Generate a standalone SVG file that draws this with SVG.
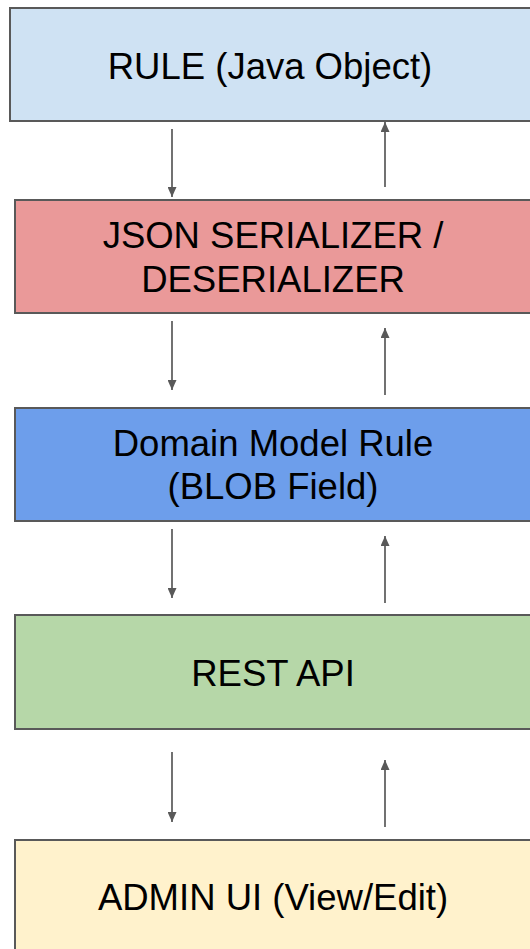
<svg xmlns="http://www.w3.org/2000/svg" width="530" height="949" viewBox="0 0 530 949">
<style>
.box{stroke:#595959;stroke-width:2}
.lbl{font-family:"Liberation Sans",Arial,sans-serif;font-size:36.5px;fill:#000;text-anchor:middle}
.con{stroke:#595959;stroke-width:1.7;fill:none}
</style>
<defs>
<marker id="ah" viewBox="0 0 10 9" refX="10" refY="4.5" markerWidth="10" markerHeight="9" orient="auto" markerUnits="userSpaceOnUse">
<path d="M0,0 L10,4.5 L0,9 z" fill="#595959"/>
</marker>
</defs>
<rect width="530" height="949" fill="#fff"/>
<g id="rule">
<rect class="box" x="10" y="8" width="540" height="113" fill="#cfe2f3"/>
<text class="lbl" x="270" y="79">RULE (Java Object)</text>
</g>
<g id="json">
<rect class="box" x="15" y="200" width="540" height="113" fill="#ea9999"/>
<text class="lbl" x="273" y="248">JSON SERIALIZER /</text>
<text class="lbl" x="273" y="292">DESERIALIZER</text>
</g>
<g id="domain">
<rect class="box" x="15" y="408" width="540" height="113" fill="#6d9eeb"/>
<text class="lbl" x="273" y="456">Domain Model Rule</text>
<text class="lbl" x="273" y="499">(BLOB Field)</text>
</g>
<g id="rest">
<rect class="box" x="15" y="615" width="540" height="114" fill="#b6d7a8"/>
<text class="lbl" x="273" y="686">REST API</text>
</g>
<g id="admin">
<rect class="box" x="15" y="840" width="540" height="130" fill="#fff2cc"/>
<text class="lbl" x="273" y="910">ADMIN UI (View/Edit)</text>
</g>
<g id="connectors">
<line class="con" x1="172" y1="129" x2="172" y2="197" marker-end="url(#ah)"/>
<line class="con" x1="385" y1="187" x2="385" y2="122" marker-end="url(#ah)"/>
<line class="con" x1="172" y1="321" x2="172" y2="390" marker-end="url(#ah)"/>
<line class="con" x1="385" y1="395" x2="385" y2="328" marker-end="url(#ah)"/>
<line class="con" x1="172" y1="529" x2="172" y2="598" marker-end="url(#ah)"/>
<line class="con" x1="385" y1="603" x2="385" y2="536" marker-end="url(#ah)"/>
<line class="con" x1="172" y1="752" x2="172" y2="822" marker-end="url(#ah)"/>
<line class="con" x1="385" y1="827" x2="385" y2="760" marker-end="url(#ah)"/>
</g>
</svg>
